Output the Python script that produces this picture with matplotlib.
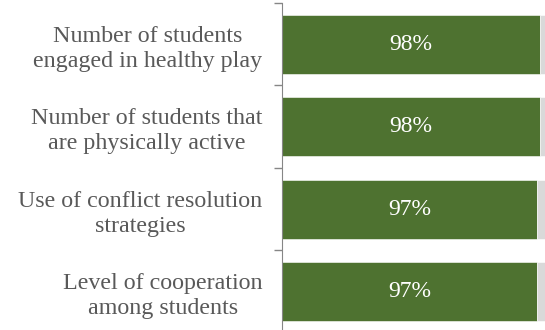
import numpy as np
import matplotlib.pyplot as plt

# survey items, top to bottom
labels = ['Number of students\nengaged in healthy play',
          'Number of students that\nare physically active',
          'Use of conflict resolution\nstrategies',
          'Level of cooperation\namong students']
agree = [98, 98, 97, 97]
rest = [100 - v for v in agree]

plt.rcParams['font.family'] = ['Liberation Serif', 'DejaVu Serif']

fig = plt.figure(figsize=(5.45, 3.3), dpi=100)
ax = fig.add_axes([0.5174, -0.009, 0.4826, 1.0])

y = np.arange(len(labels))
ax.barh(y, agree, height=0.72, color='#4E7230', edgecolor='white', linewidth=0.4)
ax.barh(y, rest, left=agree, height=0.72, color='#D9D9D9', edgecolor='white', linewidth=0.4)

for yi, v in zip(y, agree):
    ax.text(v / 2, yi, f'{v}%', ha='center', va='center', color='white', fontsize=17)

ax.set_xlim(0, 100)
ax.set_ylim(len(labels) - 0.5, -0.5)

# ticks sit on category boundaries, labels in the middle
ax.set_yticks(np.arange(-0.5, len(labels)), minor=False)
ax.set_yticklabels([])
ax.set_yticks(y, minor=True)
ax.set_yticklabels(labels, minor=True, fontsize=17.3, color='#595959',
                   multialignment='center', linespacing=1.25)
ax.tick_params(axis='y', which='major', length=6, color='#868686', width=1)
ax.tick_params(axis='y', which='minor', length=0, pad=14)
ax.set_xticks([])

for s in ['top', 'right', 'bottom']:
    ax.spines[s].set_visible(False)
ax.spines['left'].set_color('#868686')

fig.savefig('out.png', dpi=100)
